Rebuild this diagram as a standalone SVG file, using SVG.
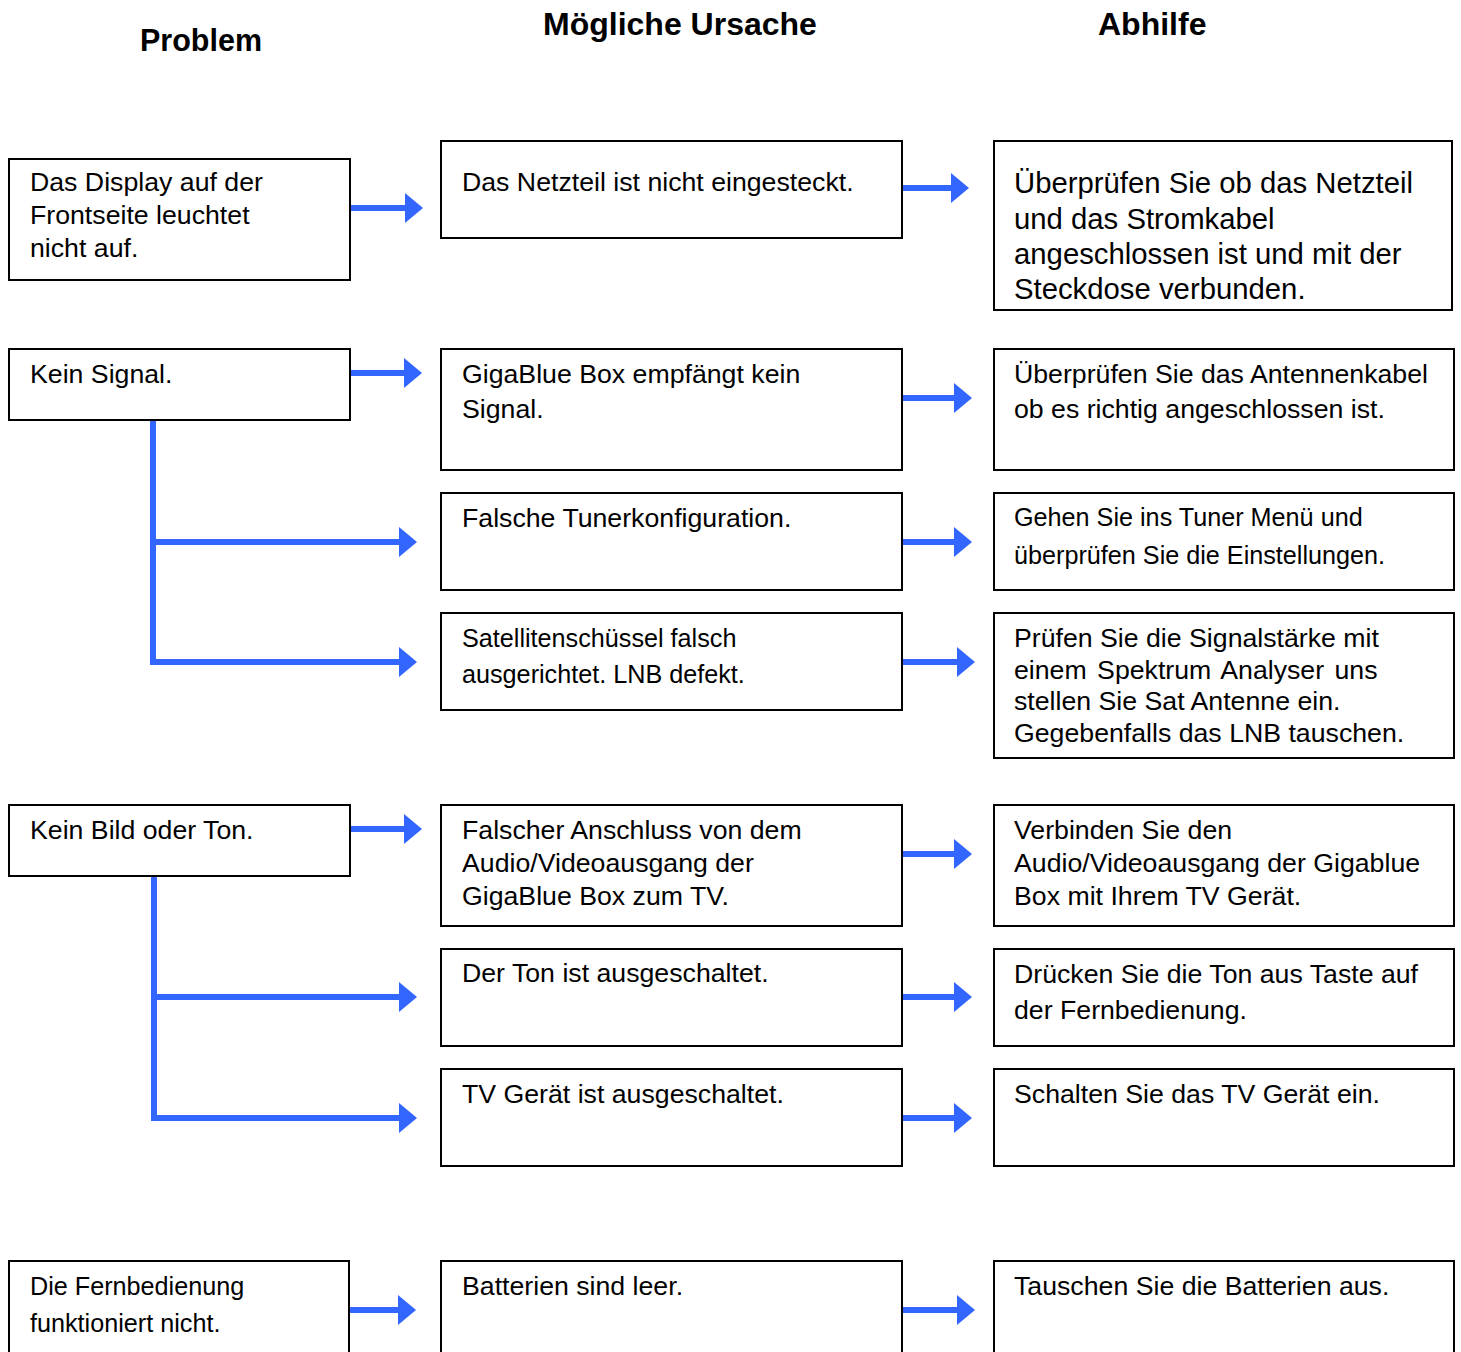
<svg xmlns="http://www.w3.org/2000/svg" width="1461" height="1352" viewBox="0 0 1461 1352">
<style>
.box{fill:#fff;stroke:#000;stroke-width:2}
.t{font-family:"Liberation Sans",Arial,sans-serif;font-size:26.7px;fill:#000}
.s{font-size:25.2px}
.l{font-size:29.3px}
.h{font-family:"Liberation Sans",Arial,sans-serif;font-weight:bold;font-size:32px;fill:#000}
.hp{font-size:30.5px}
.c{stroke:#3366ff;stroke-width:6;fill:none;marker-end:url(#ah)}
.v{stroke:#3366ff;stroke-width:6;fill:none}
</style>
<defs>
<marker id="ah" markerUnits="userSpaceOnUse" markerWidth="18" markerHeight="30" refX="0" refY="15" orient="auto" viewBox="0 0 18 30">
<path d="M0,0 L18,15 L0,30 Z" fill="#3366ff"/>
</marker>
</defs>
<rect width="1461" height="1352" fill="#fff"/>
<g id="headers">
<text class="h hp" x="140" y="51">Problem</text>
<text class="h" x="543" y="35">Mögliche Ursache</text>
<text class="h" x="1098" y="35">Abhilfe</text>
</g>
<g id="connectors">
<line class="c" x1="350" y1="208" x2="405" y2="208"/>
<line class="c" x1="898" y1="188" x2="951" y2="188"/>
<line class="c" x1="350" y1="373" x2="404" y2="373"/>
<line class="c" x1="902" y1="398" x2="954" y2="398"/>
<line class="v" x1="153" y1="420" x2="153" y2="665"/>
<line class="c" x1="150" y1="542" x2="399" y2="542"/>
<line class="c" x1="150" y1="662" x2="399" y2="662"/>
<line class="c" x1="902" y1="542" x2="954" y2="542"/>
<line class="c" x1="902" y1="662" x2="957" y2="662"/>
<line class="c" x1="350" y1="829" x2="404" y2="829"/>
<line class="c" x1="902" y1="854" x2="954" y2="854"/>
<line class="v" x1="154" y1="876" x2="154" y2="1121"/>
<line class="c" x1="151" y1="997" x2="399" y2="997"/>
<line class="c" x1="151" y1="1118" x2="399" y2="1118"/>
<line class="c" x1="902" y1="997" x2="954" y2="997"/>
<line class="c" x1="902" y1="1118" x2="954" y2="1118"/>
<line class="c" x1="346" y1="1310" x2="398" y2="1310"/>
<line class="c" x1="902" y1="1310" x2="957" y2="1310"/>
</g>
<g id="p1"><rect class="box" x="9" y="159" width="341" height="121"/>
<text class="t" x="30" y="191">Das Display auf der</text>
<text class="t" x="30" y="224">Frontseite leuchtet</text>
<text class="t" x="30" y="257">nicht auf.</text></g>
<g id="p2"><rect class="box" x="9" y="349" width="341" height="71"/>
<text class="t" x="30" y="383">Kein Signal.</text></g>
<g id="p3"><rect class="box" x="9" y="805" width="341" height="71"/>
<text class="t" x="30" y="839">Kein Bild oder Ton.</text></g>
<g id="p4"><rect class="box" x="9" y="1261" width="340" height="120"/>
<text class="t s" x="30" y="1295">Die Fernbedienung</text>
<text class="t s" x="30" y="1332">funktioniert nicht.</text></g>

<g id="u1"><rect class="box" x="441" y="141" width="461" height="97"/>
<text class="t" x="462" y="191">Das Netzteil ist nicht eingesteckt.</text></g>
<g id="u2"><rect class="box" x="441" y="349" width="461" height="121"/>
<text class="t" x="462" y="383">GigaBlue Box empfängt kein</text>
<text class="t" x="462" y="418">Signal.</text></g>
<g id="u3"><rect class="box" x="441" y="493" width="461" height="97"/>
<text class="t" x="462" y="527">Falsche Tunerkonfiguration.</text></g>
<g id="u4"><rect class="box" x="441" y="613" width="461" height="97"/>
<text class="t s" x="462" y="647">Satellitenschüssel falsch</text>
<text class="t s" x="462" y="683">ausgerichtet. LNB defekt.</text></g>
<g id="u5"><rect class="box" x="441" y="805" width="461" height="121"/>
<text class="t" x="462" y="839">Falscher Anschluss von dem</text>
<text class="t" x="462" y="872">Audio/Videoausgang der</text>
<text class="t" x="462" y="905">GigaBlue Box zum TV.</text></g>
<g id="u6"><rect class="box" x="441" y="949" width="461" height="97"/>
<text class="t" x="462" y="982">Der Ton ist ausgeschaltet.</text></g>
<g id="u7"><rect class="box" x="441" y="1069" width="461" height="97"/>
<text class="t" x="462" y="1103">TV Gerät ist ausgeschaltet.</text></g>
<g id="u8"><rect class="box" x="441" y="1261" width="461" height="120"/>
<text class="t" x="462" y="1295">Batterien sind leer.</text></g>

<g id="a1"><rect class="box" x="994" y="141" width="458" height="169"/>
<text class="t l" x="1014" y="193">Überprüfen Sie ob das Netzteil</text>
<text class="t l" x="1014" y="229">und das Stromkabel</text>
<text class="t l" x="1014" y="264">angeschlossen ist und mit der</text>
<text class="t l" x="1014" y="299">Steckdose verbunden.</text></g>
<g id="a2"><rect class="box" x="994" y="349" width="460" height="121"/>
<text class="t" x="1014" y="383">Überprüfen Sie das Antennenkabel</text>
<text class="t" x="1014" y="418">ob es richtig angeschlossen ist.</text></g>
<g id="a3"><rect class="box" x="994" y="493" width="460" height="97"/>
<text class="t s" x="1014" y="526">Gehen Sie ins Tuner Menü und</text>
<text class="t s" x="1014" y="564">überprüfen Sie die Einstellungen.</text></g>
<g id="a4"><rect class="box" x="994" y="613" width="460" height="145"/>
<text class="t" x="1014" y="647">Prüfen Sie die Signalstärke mit</text>
<text class="t" x="1014" y="679" word-spacing="3">einem Spektrum Analyser uns</text>
<text class="t" x="1014" y="710">stellen Sie Sat Antenne ein.</text>
<text class="t" x="1014" y="742">Gegebenfalls das LNB tauschen.</text></g>
<g id="a5"><rect class="box" x="994" y="805" width="460" height="121"/>
<text class="t" x="1014" y="839">Verbinden Sie den</text>
<text class="t" x="1014" y="872">Audio/Videoausgang der Gigablue</text>
<text class="t" x="1014" y="905">Box mit Ihrem TV Gerät.</text></g>
<g id="a6"><rect class="box" x="994" y="949" width="460" height="97"/>
<text class="t" x="1014" y="983">Drücken Sie die Ton aus Taste auf</text>
<text class="t" x="1014" y="1019">der Fernbedienung.</text></g>
<g id="a7"><rect class="box" x="994" y="1069" width="460" height="97"/>
<text class="t" x="1014" y="1103">Schalten Sie das TV Gerät ein.</text></g>
<g id="a8"><rect class="box" x="994" y="1261" width="460" height="120"/>
<text class="t" x="1014" y="1295">Tauschen Sie die Batterien aus.</text></g>
</svg>
